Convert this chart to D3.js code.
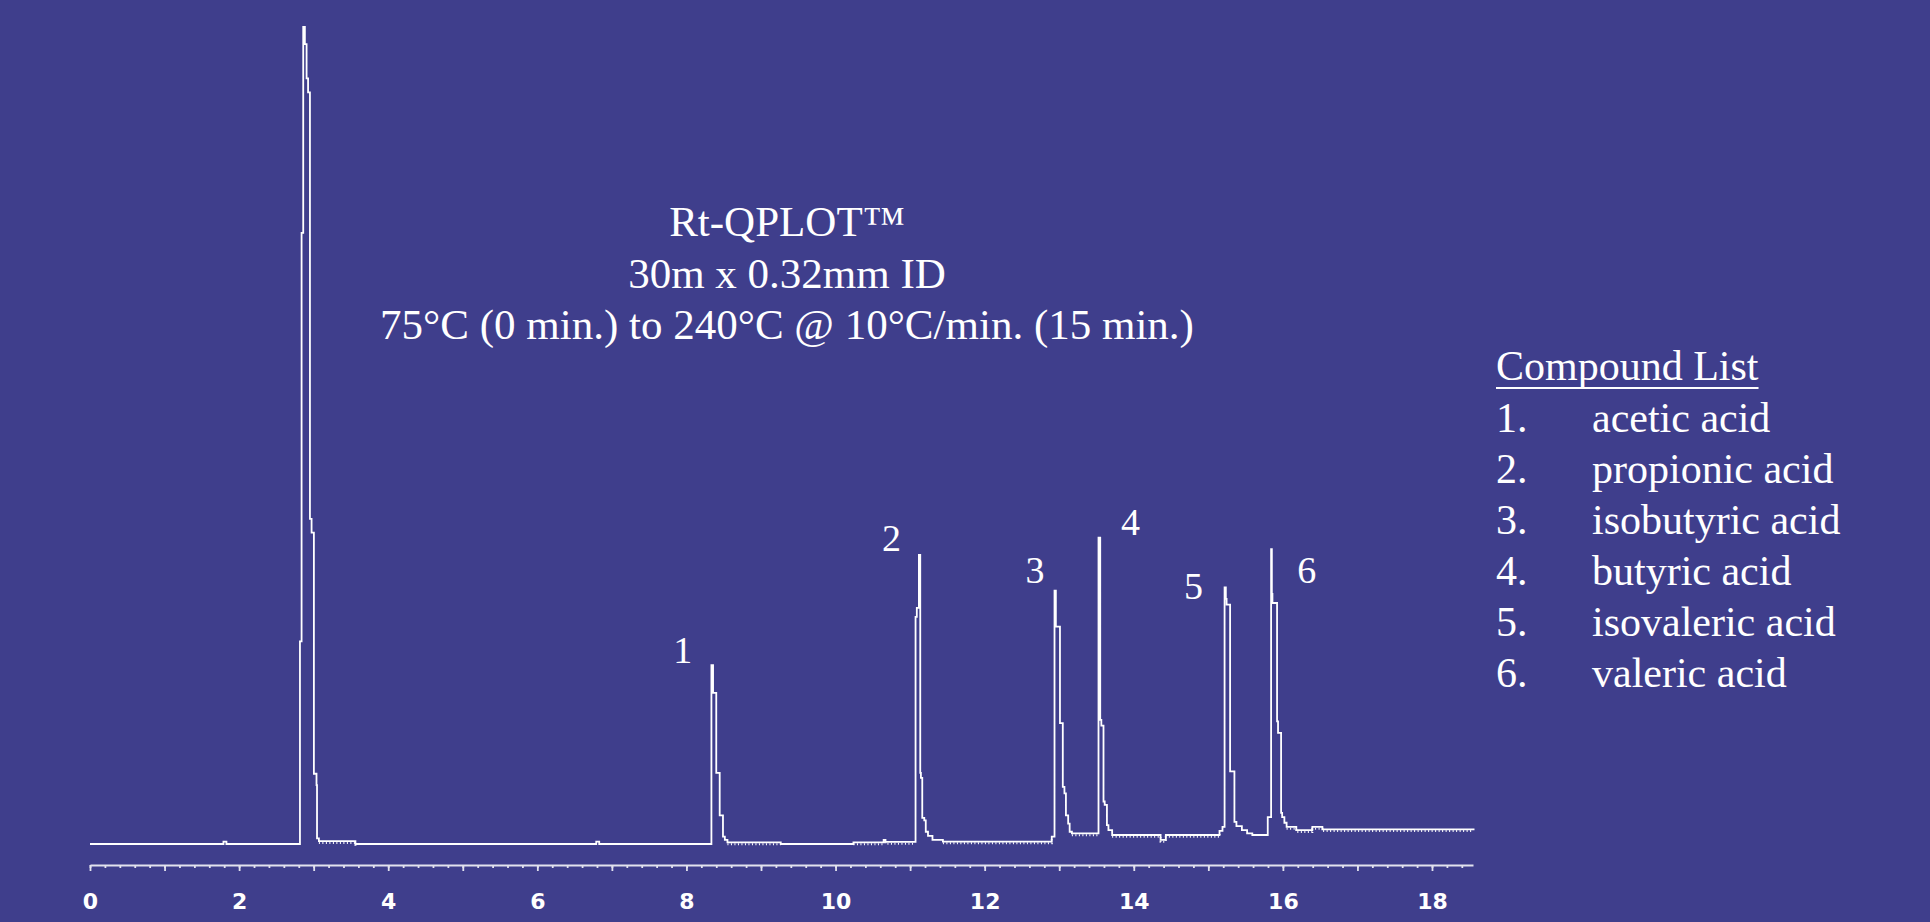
<!DOCTYPE html>
<html>
<head>
<meta charset="utf-8">
<style>
  html, body { margin: 0; padding: 0; background: #3f3e8c; overflow: hidden; }
  svg { display: block; }
  .trace { fill: none; stroke: #ffffff; stroke-width: 1.8px; }
  .comb { fill: none; stroke: #ffffff; stroke-width: 2px; stroke-dasharray: 1 2.5; }
  .axis path, .axis line { stroke: #e2e2ee; stroke-width: 1.8px; }
  .axis text { fill: #ffffff; font-family: "DejaVu Sans", Verdana, sans-serif; font-weight: bold; font-size: 22px; }
  .serif { fill: #ffffff; font-family: "Liberation Serif", "Times New Roman", serif; }
</style>
</head>
<body>
<script src="https://d3js.org/d3.v7.min.js"></script>
<script>
// retention time (min), detector response (solvent apex = 100)
var trace = [
  [0, 0],
  [1.79, 0.3], [1.83, 0],
  [2.816, 24.8], [2.838, 74.8], [2.860, 100], [2.882, 97.9], [2.905, 93.7], [2.925, 92.0],
  [2.950, 39.8], [2.972, 38.1], [3.003, 8.6], [3.038, 7.2], [3.045, 0.7], [3.07, 0.35],
  [3.56, 0],
  [6.79, 0.3], [6.83, 0],
  [8.335, 21.9], [8.357, 18.5], [8.40, 8.7], [8.446, 3.5], [8.49, 0.9], [8.515, 0.5], [8.55, 0.2],
  [9.265, 0],
  [10.24, 0.2], [10.645, 0.5], [10.67, 0.25],
  [11.073, 27.8], [11.09, 28.9], [11.118, 35.4], [11.136, 8.7], [11.145, 8.1], [11.163, 3.2],
  [11.19, 2.9], [11.21, 1.5], [11.24, 1.0], [11.30, 0.5], [11.44, 0.3],
  [12.90, 0.9],
  [12.937, 31.0], [12.955, 26.6], [13.01, 14.8], [13.048, 7.0], [13.07, 6.2], [13.09, 3.5],
  [13.12, 2.5], [13.14, 1.5], [13.17, 1.3],
  [13.527, 37.5], [13.55, 15.2], [13.565, 14.5], [13.594, 5.2], [13.61, 4.8], [13.64, 2.3],
  [13.66, 1.7], [13.71, 1.1],
  [14.36, 0.5], [14.43, 1.1],
  [15.15, 1.6], [15.19, 2.1],
  [15.218, 31.4], [15.235, 30.0], [15.245, 29.3], [15.292, 8.9], [15.35, 2.7], [15.377, 2.2],
  [15.45, 1.7], [15.52, 1.3], [15.59, 1.1],
  [15.797, 3.3],
  [15.842, 36.1], [15.852, 30.6], [15.86, 29.5], [15.922, 15.0], [15.935, 13.6], [15.976, 3.8],
  [15.99, 3.3], [16.02, 2.6], [16.05, 2.1], [16.18, 1.7], [16.395, 2.1], [16.53, 1.8],
  [18.57, 1.8]
];

// stretches of baseline showing the digitising noise
var noisyStretches = [[3.07, 3.56], [8.55, 9.265], [10.24, 11.05], [11.44, 12.90],
                      [13.17, 13.52], [13.71, 15.15], [16.05, 18.55]];

var peakNumbers = ["1", "2", "3", "4", "5", "6"];
var labelTimes  = [7.95, 10.75, 12.675, 13.955, 14.80, 16.32];
var labelLevels = [22.2, 35.9, 31.9, 37.8, 30.0, 31.9];

var compounds = ["acetic acid", "propionic acid", "isobutyric acid",
                 "butyric acid", "isovaleric acid", "valeric acid"];

var titleLines = ["Rt-QPLOT\u2122", "30m x 0.32mm ID",
                  "75\u00b0C (0 min.) to 240\u00b0C @ 10\u00b0C/min. (15 min.)"];

var majorTicks = [0, 1, 2, 3, 4, 5, 6, 7, 8, 9, 10, 11, 12, 13, 14, 15, 16, 17, 18];
var tickLabels = [0, 2, 4, 6, 8, 10, 12, 14, 16, 18];

var width = 1930, height = 922;
var axisY = 865;

var svg = d3.select("body").append("svg")
    .attr("width", width)
    .attr("height", height);

var x = d3.scaleLinear().domain([0, 18.55]).range([90, 1473]);
var y = d3.scaleLinear().domain([0, 100]).range([844, 27]);

var line = d3.line()
    .x(function(d) { return x(d[0]); })
    .y(function(d) { return y(d[1]); })
    .curve(d3.curveStepAfter);

svg.append("path")
    .datum(trace)
    .attr("class", "trace")
    .attr("d", line);

// noise comb under the baseline
var bis = d3.bisector(function(d) { return d[0]; }).right;
function valueAt(t) {
  var i = Math.max(0, bis(trace, t) - 1);
  return trace[i][1];
}
noisyStretches.forEach(function(r) {
  var pts = [[r[0], valueAt(r[0])]]
    .concat(trace.filter(function(d) { return d[0] > r[0] && d[0] < r[1]; }))
    .concat([[r[1], valueAt(r[1])]]);
  svg.append("path")
      .datum(pts)
      .attr("class", "comb")
      .attr("transform", "translate(0,1.8)")
      .attr("d", line);
});

// x axis: minor ticks every 0.2 min, major every minute, labels every 2
var minor = svg.append("g")
    .attr("class", "axis")
    .attr("transform", "translate(0," + axisY + ")")
    .call(d3.axisBottom(x)
      .tickValues(d3.range(0, 18.5, 0.2))
      .tickSize(3).tickSizeOuter(0).tickFormat(""));
minor.select(".domain").remove();

var major = svg.append("g")
    .attr("class", "axis")
    .attr("transform", "translate(0," + axisY + ")")
    .call(d3.axisBottom(x)
      .tickValues(majorTicks)
      .tickSize(6).tickSizeOuter(0)
      .tickFormat(function(d) { return tickLabels.indexOf(d) >= 0 ? d : ""; }));
major.selectAll("text").attr("y", 44).attr("dy", 0);

// peak numbers
svg.selectAll(".peaklabel")
  .data(peakNumbers)
  .enter().append("text")
    .attr("class", "serif peaklabel")
    .attr("x", function(d, i) { return x(labelTimes[i]); })
    .attr("y", function(d, i) { return y(labelLevels[i]); })
    .attr("text-anchor", "middle")
    .style("font-size", "38px")
    .text(function(d) { return d; });

// column / method text
svg.selectAll(".title")
  .data(titleLines)
  .enter().append("text")
    .attr("class", "serif title")
    .attr("x", 787)
    .attr("y", function(d, i) { return 236 + i * 51.5; })
    .attr("text-anchor", "middle")
    .style("font-size", "43px")
    .text(function(d) { return d; });

// compound list
var legend = svg.append("g").attr("transform", "translate(1496,0)");
var head = legend.append("text")
    .attr("class", "serif")
    .attr("y", 380)
    .style("font-size", "42px")
    .text("Compound List");
var hw = head.node().getComputedTextLength();
legend.append("line")
    .attr("x1", 0).attr("x2", hw)
    .attr("y1", 388).attr("y2", 388)
    .attr("stroke", "#ffffff").attr("stroke-width", 2);

var rows = legend.selectAll(".row")
  .data(compounds)
  .enter().append("g")
    .attr("transform", function(d, i) { return "translate(0," + (432 + i * 51) + ")"; });
rows.append("text")
    .attr("class", "serif")
    .style("font-size", "42px")
    .text(function(d, i) { return (i + 1) + "."; });
rows.append("text")
    .attr("class", "serif")
    .attr("x", 96)
    .style("font-size", "42px")
    .text(function(d) { return d; });
</script>
</body>
</html>
